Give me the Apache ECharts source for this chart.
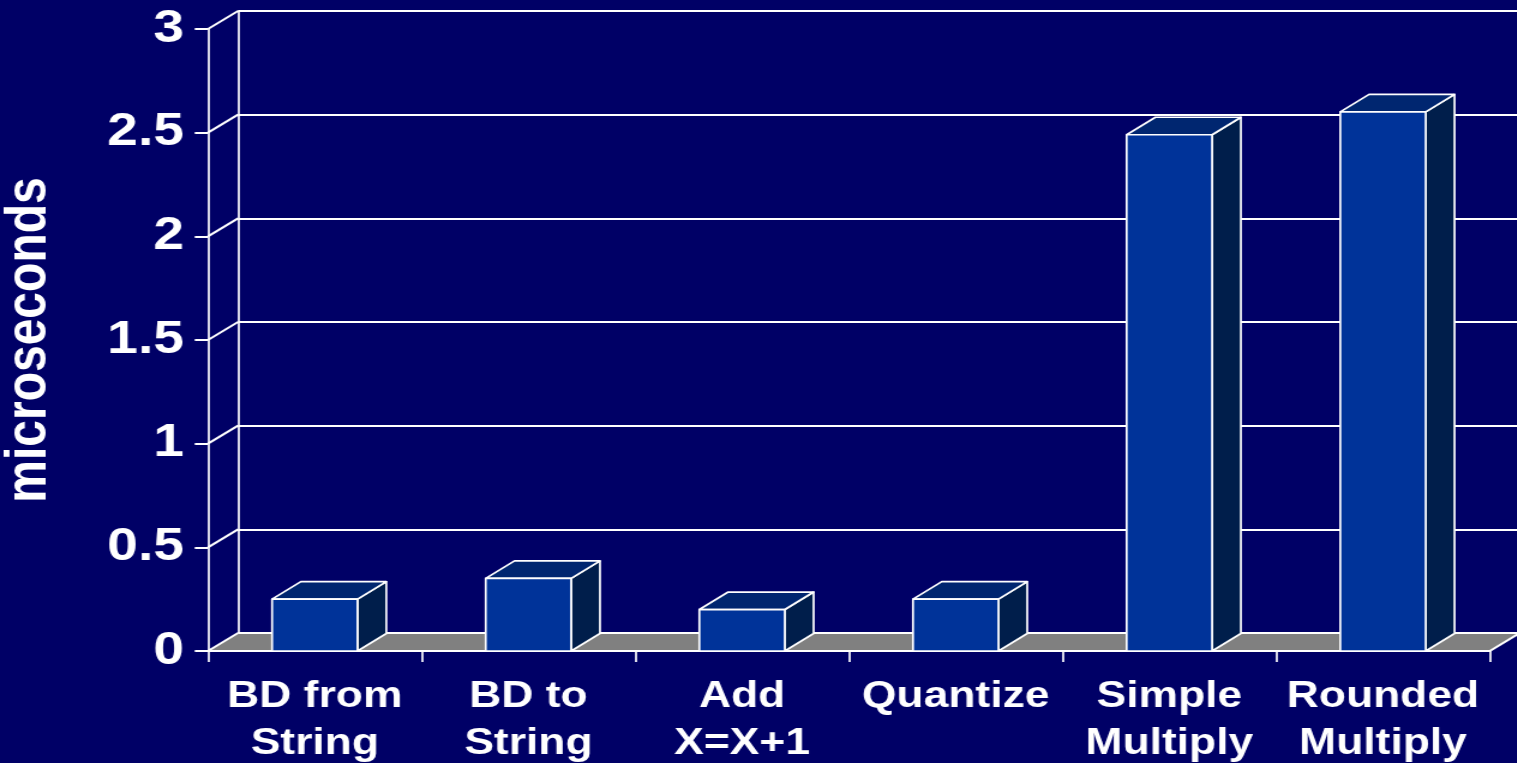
<!DOCTYPE html>
<html>
<head>
<meta charset="utf-8">
<script src="https://cdn.jsdelivr.net/npm/echarts@6/dist/echarts.min.js"></script>
<style>
html,body{margin:0;padding:0;background:#000066;overflow:hidden;}
/* the reference slide is stretched horizontally by about 1.2x */
#chart{width:1264px;height:763px;transform:scaleX(1.2);transform-origin:0 0;}
</style>
</head>
<body>
<div id="chart"></div>
<script>
// ---- data ----
var categories = ['BD from\nString', 'BD to\nString', 'Add\nX=X+1', 'Quantize', 'Simple\nMultiply', 'Rounded\nMultiply'];
var values = [0.25, 0.35, 0.2, 0.25, 2.49, 2.6];
var yTicks = [0, 0.5, 1, 1.5, 2, 2.5, 3];
var axisTitle = 'microseconds';

// ---- style constants ----
var WALL_DX = 25, WALL_DY = 18;
var BAR_DX = 24, BAR_DY = 17.5;
var FONT = '"Liberation Sans", Arial, sans-serif';

var chart = echarts.init(document.getElementById('chart'));

var option = {
  backgroundColor: '#000066',
  animation: false,
  grid: [
    {left: 173.3, right: 22.5, top: 29, bottom: 112, containLabel: false, outerBoundsMode: 'none'},
    {left: 198.3, right: -3, top: 11, bottom: 130, containLabel: false, outerBoundsMode: 'none'}
  ],
  xAxis: [
    {
      type: 'category', gridIndex: 0, data: categories, boundaryGap: true,
      axisLine: {show: true, lineStyle: {color: '#ffffff', width: 2}},
      axisTick: {show: true, length: 11, lineStyle: {color: '#ffffff', width: 1.7}},
      axisLabel: {color: '#ffffff', fontSize: 37, fontWeight: 'bold', fontFamily: FONT, lineHeight: 47, margin: 22, interval: 0},
      splitLine: {show: false}
    },
    {
      type: 'category', gridIndex: 1, data: categories, show: false
    }
  ],
  yAxis: [
    {
      type: 'value', gridIndex: 0, min: 0, max: 3, interval: 0.5,
      name: axisTitle, nameLocation: 'middle', nameRotate: 90, nameGap: 125,
      nameTextStyle: {color: '#ffffff', fontSize: 48, fontWeight: 'bold', fontFamily: FONT},
      axisLine: {show: true, lineStyle: {color: '#ffffff', width: 1.7}},
      axisTick: {show: true, length: 11, lineStyle: {color: '#ffffff', width: 2}},
      axisLabel: {color: '#ffffff', fontSize: 46, fontWeight: 'bold', fontFamily: FONT, margin: 20,
        formatter: function (v) { return String(v); }},
      splitLine: {show: false}
    },
    {
      type: 'value', gridIndex: 1, min: 0, max: 3, interval: 0.5,
      axisLine: {show: true, lineStyle: {color: '#ffffff', width: 1.7}},
      axisTick: {show: false},
      axisLabel: {show: false},
      splitLine: {show: true, lineStyle: {color: '#ffffff', width: 2}}
    }
  ],
  series: [
    {
      // floor
      type: 'custom', xAxisIndex: 0, yAxisIndex: 0, clip: false, silent: true,
      data: [[0, 0]],
      renderItem: function (params, api) {
        var cs = params.coordSys;
        var y = api.coord([0, 0])[1];
        var x0 = cs.x, x1 = cs.x + cs.width;
        return {
          type: 'group',
          children: [
            {type: 'polygon', shape: {points: [[x0, y], [x1, y], [x1 + WALL_DX, y - WALL_DY], [x0 + WALL_DX, y - WALL_DY]]},
              style: {fill: '#808080'}},
            {type: 'polyline', shape: {points: [[x0 + WALL_DX, y - WALL_DY], [x1 + WALL_DX, y - WALL_DY]]},
              style: {stroke: '#ffffff', lineWidth: 2, fill: null}},
            {type: 'polyline', shape: {points: [[x0, y], [x1, y], [x1 + WALL_DX, y - WALL_DY]]},
              style: {stroke: '#ffffff', lineWidth: 2, fill: null}}
          ]
        };
      }
    },
    {
      // tick connectors from front axis to back wall
      type: 'custom', xAxisIndex: 0, yAxisIndex: 0, clip: false, silent: true,
      data: yTicks.map(function (v) { return [0, v]; }),
      renderItem: function (params, api) {
        var cs = params.coordSys;
        var y = api.coord([0, api.value(1)])[1];
        return {
          type: 'line',
          shape: {x1: cs.x, y1: y, x2: cs.x + WALL_DX, y2: y - WALL_DY},
          style: {stroke: '#ffffff', lineWidth: 2}
        };
      }
    },
    {
      // 3D bars
      type: 'custom', xAxisIndex: 0, yAxisIndex: 0, clip: false,
      data: values.map(function (v, i) { return [i, v]; }),
      renderItem: function (params, api) {
        var top = api.coord([api.value(0), api.value(1)]);
        var bot = api.coord([api.value(0), 0]);
        var bw = api.size([1, 0])[0] * 0.4;
        var xa = top[0] - bw / 2, xb = top[0] + bw / 2;
        var yt = top[1], yb = bot[1];
        var st = {stroke: '#ffffff', lineWidth: 1.7, lineJoin: 'round'};
        return {
          type: 'group',
          children: [
            {type: 'polygon', shape: {points: [[xb, yt], [xb + BAR_DX, yt - BAR_DY], [xb + BAR_DX, yb - BAR_DY], [xb, yb]]},
              style: Object.assign({fill: '#001E4B'}, st)},
            {type: 'polygon', shape: {points: [[xa, yt], [xb, yt], [xb + BAR_DX, yt - BAR_DY], [xa + BAR_DX, yt - BAR_DY]]},
              style: Object.assign({fill: '#002670'}, st)},
            {type: 'rect', shape: {x: xa, y: yt, width: bw, height: yb - yt},
              style: Object.assign({fill: '#003399'}, st)}
          ]
        };
      }
    }
  ]
};

chart.setOption(option);
</script>
</body>
</html>
